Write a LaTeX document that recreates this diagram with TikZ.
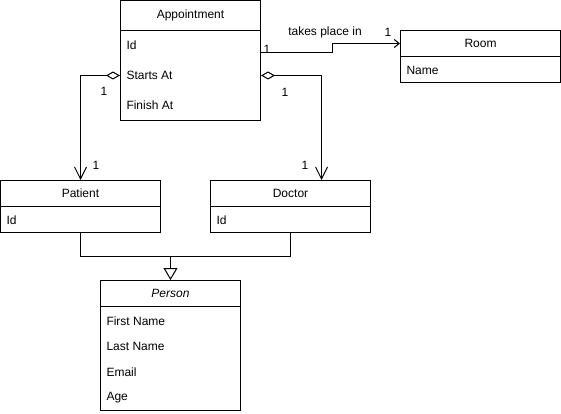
\documentclass[tikz,border=0pt]{standalone}
\usepackage{fontspec}
\setmainfont{Liberation Sans}
\usetikzlibrary{arrows.meta}
\begin{document}
\begin{tikzpicture}[x=1pt,y=-1pt,
  font=\fontsize{12pt}{14pt}\selectfont,
  line width=1pt,
  hdr/.style={draw=black, fill=white, inner sep=0pt, minimum height=26pt},
  bodybox/.style={draw=black, fill=white, inner sep=0pt},
  attr/.style={anchor=west, inner sep=0pt},
  lbl/.style={inner sep=0pt},
  agg/.style={{Diamond[open,length=14pt,width=8pt]}-{Straight Barb[length=12pt,width=12pt,line width=1pt]}},
  assoc/.style={-{Straight Barb[length=5pt,width=8pt,line width=1pt]}},
  gen/.style={-{Triangle[open,length=12pt,width=14pt,fill=white]}}
]
\useasboundingbox (0,0) rectangle (561,414);

% Appointment
\node[hdr, minimum width=140pt, minimum height=30pt] (app) at (190.5,15.5) {Appointment};
\node[bodybox, minimum width=140pt, minimum height=90pt] (appb) at (190.5,75.5) {};
\node[attr] (appid) at (126,45) {Id};
\node[attr] (appst) at (126,75) {Starts At};
\node[attr] (appfi) at (126,105) {Finish At};

% Room
\node[hdr, minimum width=160pt] (room) at (480.5,43.5) {Room};
\node[bodybox, minimum width=160pt, minimum height=26pt] (roomb) at (480.5,69.5) {};
\node[attr] (roomname) at (406,70) {Name};

% Patient
\node[hdr, minimum width=160pt] (pat) at (80.5,193.5) {Patient};
\node[bodybox, minimum width=160pt, minimum height=26pt] (patb) at (80.5,219.5) {};
\node[attr] (patid) at (6,220) {Id};

% Doctor
\node[hdr, minimum width=160pt] (doc) at (290.5,193.5) {Doctor};
\node[bodybox, minimum width=160pt, minimum height=26pt] (docb) at (290.5,219.5) {};
\node[attr] (docid) at (216,220) {Id};

% Person
\node[hdr, minimum width=140pt] (per) at (170.5,293.5) {\itshape Person};
\node[bodybox, minimum width=140pt, minimum height=104pt] (perb) at (170.5,358.5) {};
\node[attr] (perfn) at (106,321) {First Name};
\node[attr] (perln) at (106,346) {Last Name};
\node[attr] (perem) at (106,372) {Email};
\node[attr] (perag) at (106,398) {Age};

% takes place in
\coordinate (tpstart) at ([yshift=-23pt]appb.north east);
\draw[assoc] (tpstart) -- ++(71,0) |- (room.west);
\node[lbl] (tpl) at (325,32) {takes place in};
\node[lbl] (tp1a) at (267,49) {1};
\node[lbl] (tp1b) at (388,32) {1};

% aggregations
\draw[agg] (appb.west) -| (pat.north);
\node[lbl] (ag1a) at (104,91) {1};
\node[lbl] (ag1b) at (96,165) {1};
\draw[agg] (appb.east) -| ([xshift=31pt]doc.north);
\node[lbl] (ag2a) at (285,92) {1};
\node[lbl] (ag2b) at (305,165) {1};

% generalization
\coordinate (j) at (170.5,256.5);
\draw (patb.south) |- (j);
\draw (docb.south) |- (j);
\draw[gen] (j) -- (per.north);
\end{tikzpicture}
\end{document}
